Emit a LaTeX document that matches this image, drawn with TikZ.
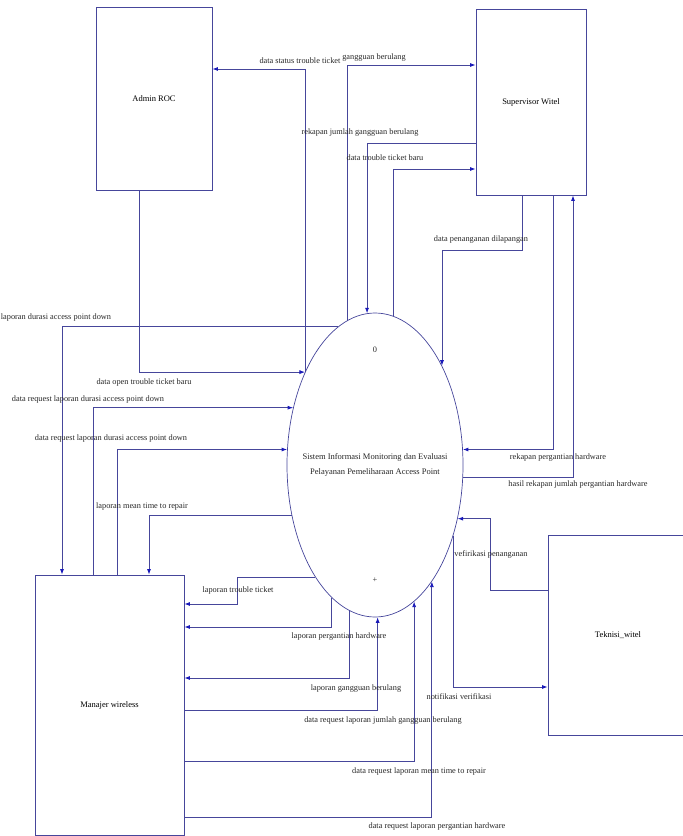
\documentclass[tikz,border=0pt]{standalone}
\usepackage{fontspec}
\setmainfont{Liberation Serif}
\usetikzlibrary{shapes.geometric,arrows.meta}
\definecolor{lnc}{RGB}{70,70,155}
\definecolor{arrc}{RGB}{25,25,185}

\begin{document}
\begin{tikzpicture}[x=1pt,y=-1pt,
  entity/.style={rectangle,draw=lnc,line width=0.9pt,inner sep=0,font=\fontsize{8.5}{10}\selectfont},
  flow/.style={draw=lnc,line width=0.8pt,-{Latex[length=5.5pt,width=4pt,color=arrc]}},
  lbl/.style={inner sep=0,text=black!85,font=\fontsize{8.3}{10}\selectfont}]
\useasboundingbox (0,0) rectangle (683,836);
\node [entity,minimum width=116pt,minimum height=183pt] (admin) at (154,98.5) {Admin ROC};
\node [entity,minimum width=110pt,minimum height=186pt] (spv) at (531,102) {Supervisor Witel};
\node [entity,minimum width=149pt,minimum height=260pt] (mgr) at (109.5,705) {Manajer wireless};
\node [entity,minimum width=140pt,minimum height=200pt] (tek) at (618,635) {Teknisi\_witel};
\node [ellipse,draw=lnc,line width=0.7pt,minimum width=176pt,minimum height=304pt,inner sep=0] (proc) at (375,465) {};
\node [lbl] (pnum) at (375,350) {0};
\node [lbl,align=center,font=\fontsize{8.5}{15}\selectfont] (pname) at (375,465)
  {Sistem Informasi Monitoring dan Evaluasi\\Pelayanan Pemeliharaan Access Point};
\node [lbl] (pplus) at (375,580) {+};

\draw [flow] (proc.127.2) |- ([yshift=29.5pt]admin.east);
\draw [flow] ([xshift=-15pt]admin.south) |- (proc.127.2);
\draw [flow] (proc.101.9) |- ([yshift=37pt]spv.west);
\draw [flow] ([yshift=-41pt]spv.west) -| (proc.93);
\draw [flow] (proc.83.5) |- ([yshift=-67pt]spv.west);
\draw [flow] ([xshift=-9pt]spv.south) -- ++(0,55) -| (proc.56.7);
\draw [flow] ([xshift=22pt]spv.south) |- (proc.10.4);
\draw [flow] (proc.352.9) -| ([xshift=42pt]spv.south);
\draw [flow] ([yshift=45pt]tek.west) -- ++(-57,0) |- (proc.327.8);
\draw [flow] (proc.318.1) |- ([yshift=-52pt]tek.west);
\draw [flow] ([yshift=-112pt]mgr.east) -| (proc.296.2);
\draw [flow] ([yshift=-56pt]mgr.east) -| (proc.286);
\draw [flow] ([yshift=-5pt]mgr.east) -| (proc.271.1);
\draw [flow] (proc.260.3) |- ([yshift=27pt]mgr.east);
\draw [flow] (proc.252.6) |- ([yshift=78pt]mgr.east);
\draw [flow] (proc.242) -- ++(-77.5,0) |- ([yshift=101pt]mgr.east);
\draw [flow] (proc.105) -| ([xshift=-47.5pt]mgr.north);
\draw [flow] ([xshift=-16.5pt]mgr.north) |- (proc.145.6);
\draw [flow] ([xshift=7.5pt]mgr.north) |- (proc.170.3);
\draw [flow] (proc.211.6) -| ([xshift=39.5pt]mgr.north);

\node [lbl] (l1) at (300,61) {data status trouble ticket};
\node [lbl] (l2) at (374,58) {gangguan berulang};
\node [lbl] (l3) at (360,133) {rekapan jumlah gangguan berulang};
\node [lbl] (l4) at (385,158) {data trouble ticket baru};
\node [lbl] (l5) at (481,240) {data penanganan dilapangan};
\node [lbl] (l6) at (558,458) {rekapan pergantian hardware};
\node [lbl] (l7) at (578,485) {hasil rekapan jumlah pergantian hardware};
\node [lbl] (l8) at (491,554) {vefirikasi penanganan};
\node [lbl] (l9) at (459,697) {notifikasi verifikasi};
\node [lbl] (l10) at (437,827) {data request laporan pergantian hardware};
\node [lbl] (l11) at (419,771) {data request laporan mean time to repair};
\node [lbl] (l12) at (383,721) {data request laporan jumlah gangguan berulang};
\node [lbl] (l13) at (356,689) {laporan gangguan berulang};
\node [lbl] (l14) at (339,637) {laporan pergantian hardware};
\node [lbl] (l15) at (238,590) {laporan trouble ticket};
\node [lbl] (l16) at (56,317) {laporan durasi access point down};
\node [lbl] (l17) at (144,382) {data open trouble ticket baru};
\node [lbl] (l18) at (88,399) {data request laporan durasi access point down};
\node [lbl] (l19) at (111,438) {data request laporan durasi access point down};
\node [lbl] (l20) at (142,506) {laporan mean time to repair};
\end{tikzpicture}
\end{document}
